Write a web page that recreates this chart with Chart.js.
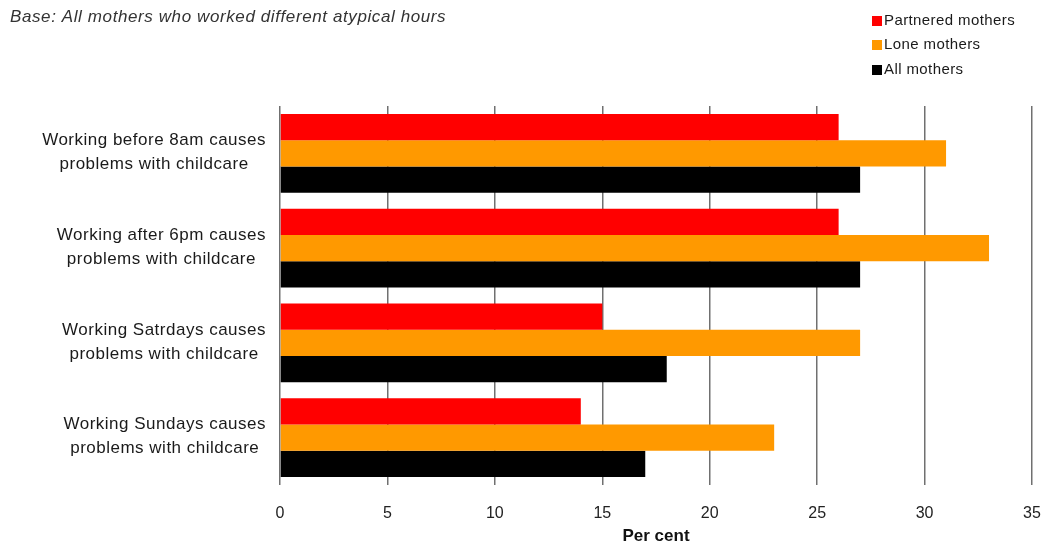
<!DOCTYPE html>
<html>
<head>
<meta charset="utf-8">
<script src="https://cdn.jsdelivr.net/npm/chart.js@4/dist/chart.umd.min.js"></script>
<style>
  html, body { margin: 0; padding: 0; background: #fff; }
  #wrap { width: 1047px; height: 547px; position: relative; }
</style>
</head>
<body>
<div id="wrap"><canvas id="c"></canvas></div>
<script>
// Categories (each entry is a two-line label)
const categories = [
  ['Working before 8am causes', 'problems with childcare'],
  ['Working after 6pm causes', 'problems with childcare'],
  ['Working Satrdays causes', 'problems with childcare'],
  ['Working Sundays causes', 'problems with childcare']
];

// Series values (per cent)
const partneredMothers = [26, 26, 15, 14];
const loneMothers = [31, 33, 27, 23];
const allMothers = [27, 27, 18, 17];

// Series names
const seriesNames = ['Partnered mothers', 'Lone mothers', 'All mothers'];
const seriesColors = ['#FF0000', '#FF9900', '#000000'];

// Axis settings and texts
const xMin = 0, xMax = 35, xStep = 5;
const xTitle = 'Per cent';
const noteText = 'Base: All mothers who worked different atypical hours';

const FONT = "'Liberation Sans', Arial, sans-serif";

// Two-line category labels: block right-aligned, lines centred within the block
const categoryLabels = {
  id: 'categoryLabels',
  afterDraw(chart) {
    const ctx = chart.ctx;
    const y = chart.scales.y;
    ctx.save();
    ctx.font = '17px ' + FONT;
    ctx.letterSpacing = '0.5px';
    ctx.fillStyle = '#1a1a1a';
    ctx.textAlign = 'center';
    ctx.textBaseline = 'middle';
    const right = 266;
    categories.forEach((lines, i) => {
      const cy = y.getPixelForTick(i);
      const maxW = Math.max(...lines.map(l => ctx.measureText(l).width));
      const cx = right - maxW / 2;
      lines.forEach((l, j) => {
        ctx.fillText(l, cx, cy - 13 + j * 24);
      });
    });
    ctx.restore();
  }
};

// Note at top left and stacked legend at top right
const headerAndLegend = {
  id: 'headerAndLegend',
  afterDraw(chart) {
    const ctx = chart.ctx;
    ctx.save();
    ctx.font = 'italic 17px ' + FONT;
    ctx.letterSpacing = '0.6px';
    ctx.fillStyle = '#333333';
    ctx.textAlign = 'left';
    ctx.textBaseline = 'middle';
    ctx.fillText(noteText, 10, 17);

    ctx.font = '15px ' + FONT;
    ctx.letterSpacing = '0.4px';
    const rows = [21, 45, 70];
    chart.data.datasets.forEach((ds, i) => {
      ctx.fillStyle = ds.backgroundColor;
      ctx.fillRect(872, rows[i] - 5, 10, 10);
      ctx.fillStyle = '#1a1a1a';
      ctx.fillText(ds.label, 884, rows[i]);
    });
    ctx.restore();
  }
};

new Chart(document.getElementById('c'), {
  type: 'bar',
  data: {
    labels: categories,
    datasets: [
      { label: seriesNames[0], data: partneredMothers, backgroundColor: seriesColors[0] },
      { label: seriesNames[1], data: loneMothers, backgroundColor: seriesColors[1] },
      { label: seriesNames[2], data: allMothers, backgroundColor: seriesColors[2] }
    ]
  },
  options: {
    indexAxis: 'y',
    responsive: true,
    maintainAspectRatio: false,
    animation: false,
    datasets: { bar: { categoryPercentage: 0.83, barPercentage: 1.0 } },
    layout: { padding: { top: 106, right: 0, bottom: 0, left: 0 } },
    plugins: {
      legend: { display: false },
      title: { display: false },
      tooltip: { enabled: false }
    },
    scales: {
      x: {
        min: xMin, max: xMax,
        ticks: {
          stepSize: xStep,
          color: '#222222',
          font: { family: FONT, size: 16 },
          padding: 19
        },
        grid: { color: '#707070', lineWidth: 1.5, drawTicks: false },
        border: { display: false },
        title: {
          display: true,
          text: xTitle,
          color: '#111111',
          font: { family: FONT, size: 17, weight: 'bold' },
          padding: { top: 4, bottom: 0 }
        },
        afterFit(s) {
          s.height = 62;
          s.paddingRight = 15;
        }
      },
      y: {
        ticks: { display: false },
        grid: { display: false },
        border: { display: false },
        afterFit(s) { s.width = 280; }
      }
    }
  },
  plugins: [categoryLabels, headerAndLegend]
});
</script>
</body>
</html>
